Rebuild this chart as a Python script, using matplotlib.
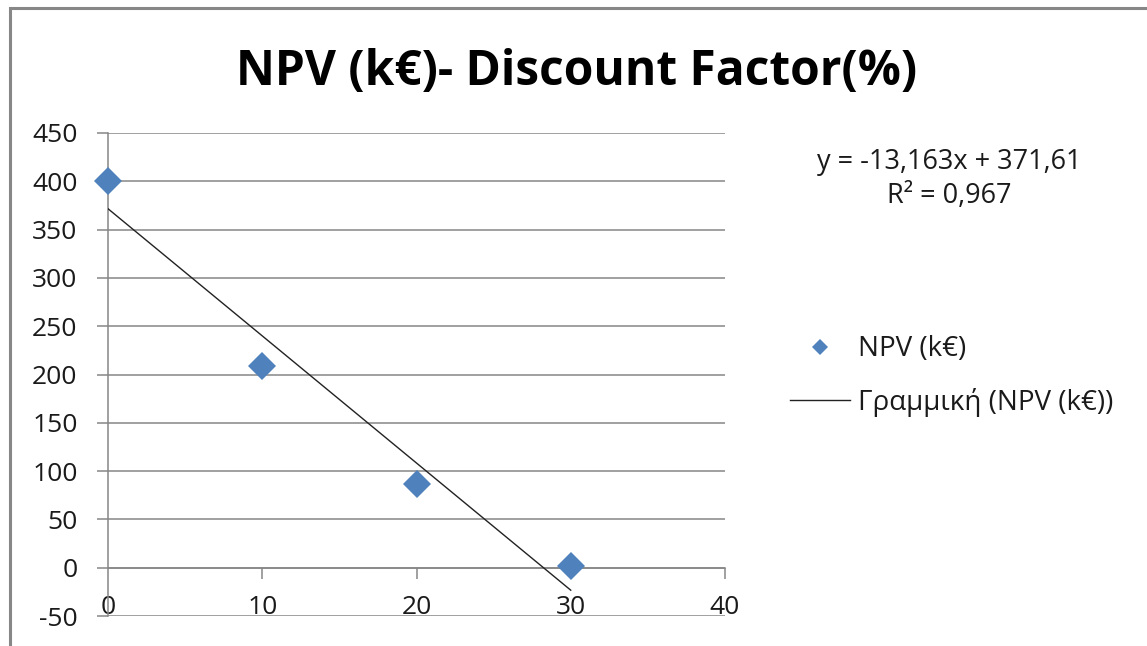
import numpy as np
import matplotlib
matplotlib.use("Agg")
import matplotlib.pyplot as plt
from matplotlib.patches import Rectangle
from matplotlib.lines import Line2D

plt.rcParams['font.family'] = ['Open Sans', 'DejaVu Sans']
plt.rcParams['axes.unicode_minus'] = False

# Discount factor (%) and net present value (k€)
discount = [0, 10, 20, 30]
npv = [400, 208.48, 86.18, 2]
x_ticks = [0, 10, 20, 30, 40]
y_ticks = [-50, 0, 50, 100, 150, 200, 250, 300, 350, 400, 450]

title = "NPV (k€)- Discount Factor(%)"
series_label = "NPV (k€)"
trend_label = "Γραμμική (NPV (k€))"

W, H = 1147, 646
fig = plt.figure(figsize=(W / 100, H / 100), dpi=100)
ax = fig.add_axes([108 / W, 30 / H, (725 - 108) / W, (616 - 133) / H])

grid_c = "#868686"
blue = "#4F81BD"
text_c = "#1a1a1a"

# linear least-squares trendline
slope, intercept = np.polyfit(discount, npv, 1)
pred = slope * np.array(discount) + intercept
ss_res = np.sum((np.array(npv) - pred) ** 2)
ss_tot = np.sum((np.array(npv) - np.mean(npv)) ** 2)
r2 = 1 - ss_res / ss_tot

ax.set_xlim(0, 40)
ax.set_ylim(-50, 450)
ax.set_xticks(x_ticks)
ax.set_yticks(y_ticks)

ax.yaxis.grid(True, color=grid_c, lw=1.1)
ax.set_axisbelow(True)
for s in ("top", "right"):
    ax.spines[s].set_visible(False)
ax.spines["left"].set_color(grid_c)
ax.spines["left"].set_linewidth(1.1)
ax.spines["bottom"].set_position(("data", 0))
ax.spines["bottom"].set_color(grid_c)
ax.spines["bottom"].set_linewidth(1.1)

ax.tick_params(axis="y", direction="out", length=8, width=1.1, color=grid_c,
               pad=14, labelsize=19, labelcolor=text_c)
ax.tick_params(axis="x", direction="out", length=8, width=1.1, color=grid_c,
               pad=12, labelsize=19, labelcolor=text_c)
xt = ax.xaxis.get_major_ticks()
xt[0].tick1line.set_visible(False)

xs = np.array([min(discount), max(discount)])
ax.plot(xs, slope * xs + intercept, color="#222222", lw=1.0, zorder=3)
ax.plot(discount, npv, linestyle="none", marker="D", ms=14, color=blue,
        markeredgewidth=0, zorder=4, clip_on=False)

fig.text(577 / W, 1 - 72 / H, title, ha="center", va="center",
         fontsize=34.5, fontweight="bold", color="black")

eq = "y = {}x + {}".format(f"{slope:.3f}".replace(".", ","),
                           f"{intercept:.2f}".replace(".", ","))
fig.text(949 / W, 1 - 162 / H, eq, ha="center", va="center", fontsize=19.5,
         color=text_c)
fig.text(949 / W, 1 - 196 / H, "R² = " + f"{r2:.3f}".replace(".", ","),
         ha="center", va="center", fontsize=19.5, color=text_c)

handles = [
    Line2D([], [], linestyle="none", marker="D", ms=8.5, color=blue,
           markeredgewidth=0),
    Line2D([], [], color="#222222", lw=1.0),
]
fig.legend(handles, [series_label, trend_label], loc="center left",
           bbox_to_anchor=(790 / W, 1 - 376 / H), frameon=False,
           fontsize=20, handlelength=2.15, handletextpad=0.3,
           labelspacing=0.88, borderpad=0, borderaxespad=0,
           labelcolor=text_c)

# chart area border
fig.patches.append(Rectangle((10 / W, -0.2), 2.0, 1.2 - 8 / H,
                             transform=fig.transFigure, fill=False,
                             edgecolor="#878787", lw=2.2, clip_on=False))

fig.savefig("out.png", dpi=100)
